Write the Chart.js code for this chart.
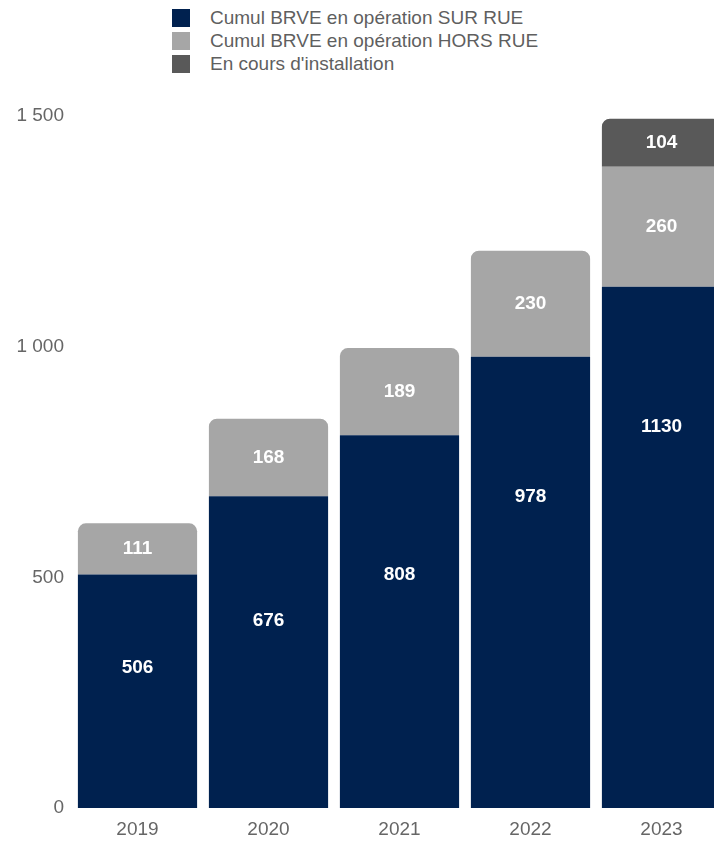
<!DOCTYPE html>
<html>
<head>
<meta charset="utf-8">
<script src="https://cdn.jsdelivr.net/npm/chart.js@4/dist/chart.umd.min.js"></script>
<style>
  html, body { margin: 0; padding: 0; background: #fff; overflow: hidden; width: 714px; height: 841px; }
  #wrap { position: relative; width: 714px; height: 841px; overflow: hidden; }
  #legend { position: absolute; left: 172px; top: 6px; font-family: "Liberation Sans", Arial, sans-serif; font-size: 19px; color: #5f5f5f; }
  #legend div { height: 23px; line-height: 23px; white-space: nowrap; }
  #legend span.box { display: inline-block; width: 18px; height: 18px; vertical-align: -3px; margin-right: 20px; }
  #chart { position: absolute; left: 0; top: 0; }
</style>
</head>
<body>
<div id="wrap">
  <div id="legend"></div>
  <canvas id="chart" width="730" height="841" style="width:730px;height:841px"></canvas>
</div>
<script>
const years = ["2019", "2020", "2021", "2022", "2023"];
const surRue = [506, 676, 808, 978, 1130];
const horsRue = [111, 168, 189, 230, 260];
const enCours = [null, null, null, null, 104];

const seriesNames = [
    "Cumul BRVE en opération SUR RUE",
    "Cumul BRVE en opération HORS RUE",
    "En cours d'installation"
];
const colors = ["#00214f", "#a6a6a6", "#595959"];

// legend in html, stacked like the original
const legend = document.getElementById("legend");
seriesNames.forEach((name, i) => {
    const row = document.createElement("div");
    row.innerHTML = `<span class="box" style="background:${colors[i]}"></span>${name}`;
    legend.appendChild(row);
});

// white value labels inside the bars
const valueLabels = {
    id: "valueLabels",
    afterDatasetsDraw(chart) {
        const ctx = chart.ctx;
        ctx.save();
        ctx.font = "bold 19px 'Liberation Sans', Arial, sans-serif";
        ctx.fillStyle = "#ffffff";
        ctx.textAlign = "center";
        ctx.textBaseline = "middle";
        chart.data.datasets.forEach((ds, di) => {
            const meta = chart.getDatasetMeta(di);
            meta.data.forEach((bar, i) => {
                const v = ds.data[i];
                if (v == null) return;
                const top = bar.y;
                const h = bar.base - bar.y;
                let y = top + h / 2;
                if (di === 0) y = top + Math.min(h * 0.4, 140);
                ctx.fillText(String(v), bar.x, y);
            });
        });
        ctx.restore();
    }
};

const font = { family: "'Liberation Sans', Arial, sans-serif", size: 19 };

new Chart(document.getElementById("chart"), {
    type: "bar",
    data: {
        labels: years,
        datasets: [
            { label: seriesNames[0], data: surRue, backgroundColor: colors[0] },
            { label: seriesNames[1], data: horsRue, backgroundColor: colors[1] },
            { label: seriesNames[2], data: enCours, backgroundColor: colors[2] }
        ]
    },
    options: {
        responsive: false,
        animation: false,
        layout: { padding: { top: 116, right: 3, left: 0, bottom: 0 } },
        datasets: {
            bar: { categoryPercentage: 1, barPercentage: 0.91, borderRadius: 8, borderSkipped: "start" }
        },
        plugins: {
            legend: { display: false },
            tooltip: { enabled: false }
        },
        scales: {
            x: {
                stacked: true,
                grid: { display: false },
                border: { display: false },
                ticks: { color: "#666", font: font, padding: 2 },
                afterFit(scale) { scale.height = 33; }
            },
            y: {
                stacked: true,
                min: 0,
                max: 1500,
                grid: { display: false },
                border: { display: false },
                ticks: {
                    stepSize: 500,
                    color: "#666",
                    font: font,
                    padding: 0,
                    callback: v => v.toLocaleString("fr-FR").replace(/[\u202f\u00a0]/g, " ")
                },
                afterFit(scale) { scale.width = 72; }
            }
        }
    },
    plugins: [valueLabels]
});
</script>
</body>
</html>
